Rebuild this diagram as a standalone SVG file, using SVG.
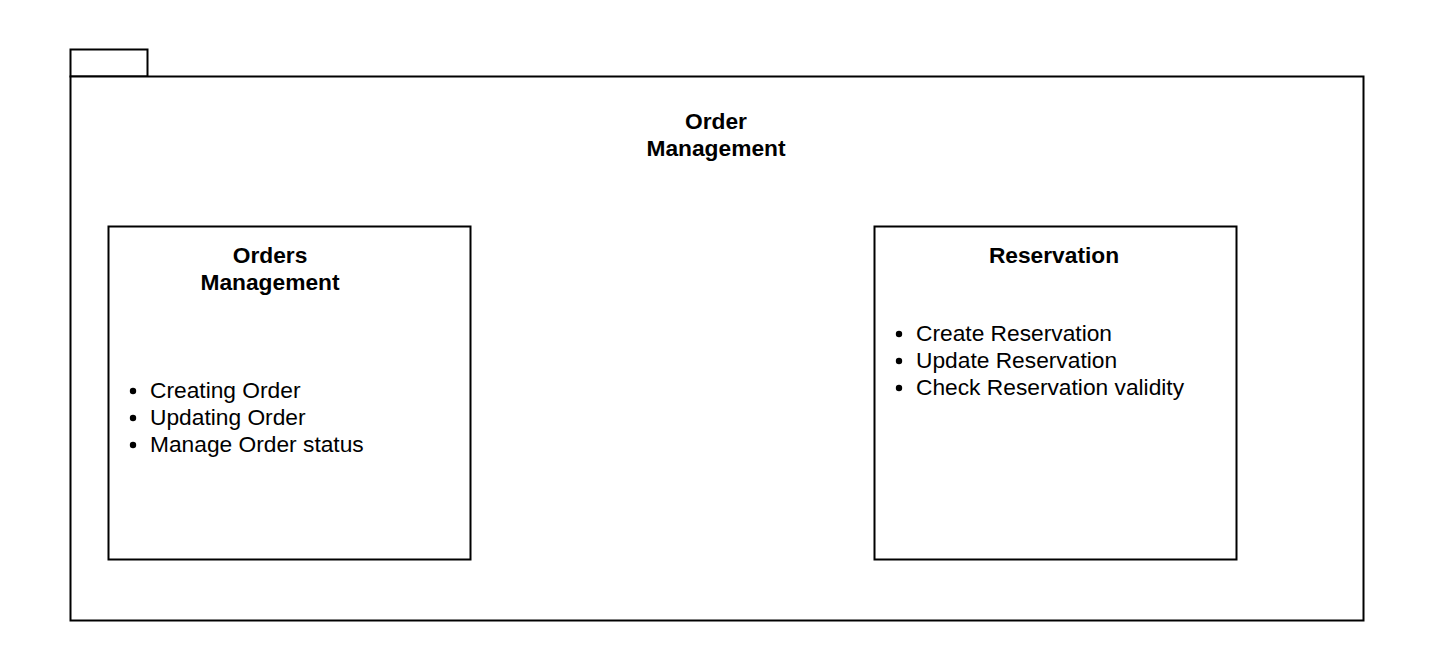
<svg xmlns="http://www.w3.org/2000/svg" width="1440" height="672" viewBox="0 0 1440 672">
<style>
.box{fill:#fff;stroke:#000;stroke-width:2}
.t{font-family:"Liberation Sans",Arial,sans-serif;font-size:22.75px;fill:#000}
.b{font-weight:bold;text-anchor:middle}
</style>
<rect width="1440" height="672" fill="#fff"/>
<g id="package">
<rect class="box" x="70.5" y="49.5" width="77" height="27"/>
<rect class="box" x="70.5" y="76.5" width="1293" height="544"/>
<text class="t b" x="716" y="129">Order</text>
<text class="t b" x="716" y="156">Management</text>
</g>
<g id="orders">
<rect class="box" x="108.5" y="226.5" width="362" height="333"/>
<text class="t b" x="270" y="263">Orders</text>
<text class="t b" x="270" y="290">Management</text>
<circle cx="133" cy="391" r="3.2"/>
<circle cx="133" cy="418" r="3.2"/>
<circle cx="133" cy="445" r="3.2"/>
<text class="t" x="150" y="398">Creating Order</text>
<text class="t" x="150" y="425">Updating Order</text>
<text class="t" x="150" y="452">Manage Order status</text>
</g>
<g id="reservation">
<rect class="box" x="874.5" y="226.5" width="362" height="333"/>
<text class="t b" x="1054" y="263">Reservation</text>
<circle cx="899" cy="334" r="3.2"/>
<circle cx="899" cy="361" r="3.2"/>
<circle cx="899" cy="388" r="3.2"/>
<text class="t" x="916" y="341">Create Reservation</text>
<text class="t" x="916" y="368">Update Reservation</text>
<text class="t" x="916" y="395">Check Reservation validity</text>
</g>
<g id="connectors"></g>
</svg>
